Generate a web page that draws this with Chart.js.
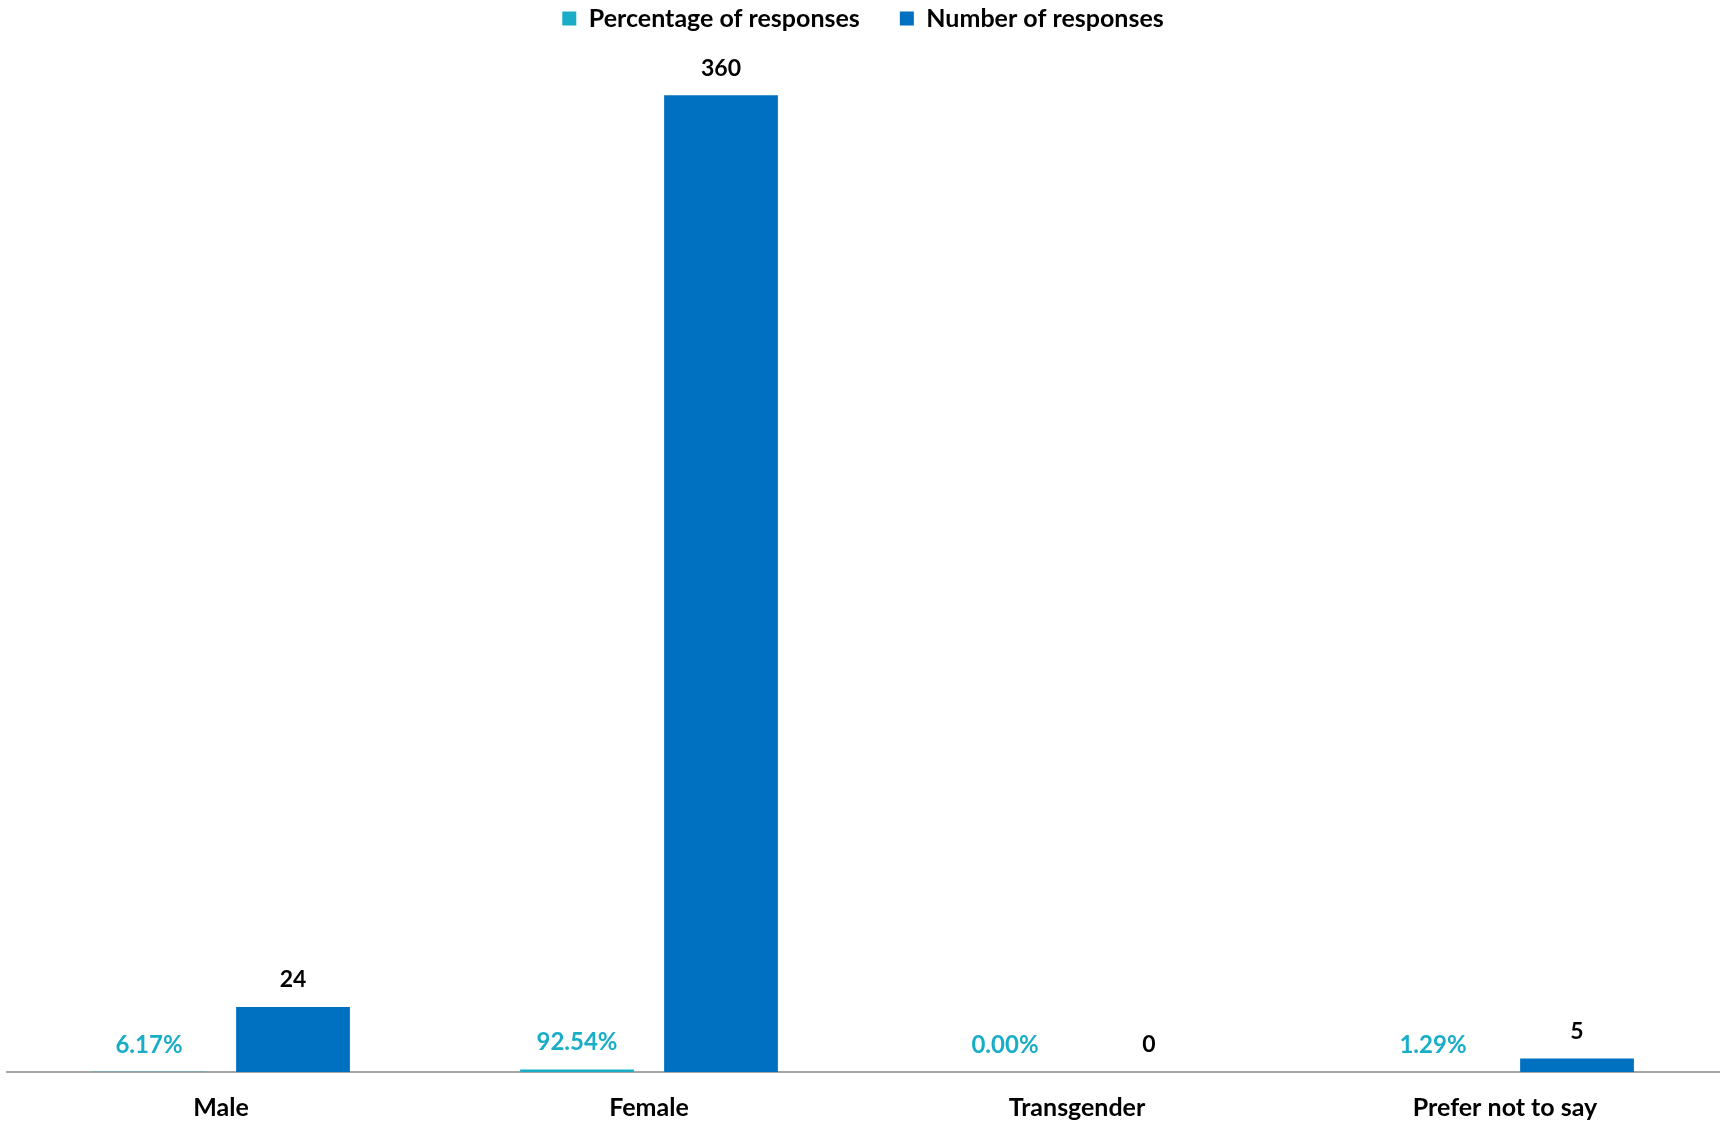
<!DOCTYPE html>
<html>
<head>
<meta charset="utf-8">
<script src="https://cdn.jsdelivr.net/npm/chart.js@4.4.1/dist/chart.umd.min.js"></script>
<style>
  html, body { margin: 0; padding: 0; background: #fff; }
  #wrap { width: 1725px; height: 1122px; }
</style>
</head>
<body>
<div id="wrap"><canvas id="genderchart" width="1725" height="1122"></canvas></div>
<script>
const categories = ['Male', 'Female', 'Transgender', 'Prefer not to say'];
const percentValues = [0.0617, 0.9254, 0.0, 0.0129];
const countValues = [24, 360, 0, 5];

const cyan = '#19ADC7';
const blue = '#0070C0';
const fontFamily = 'Lato, "Open Sans", sans-serif';

// draws the value labels above each bar
const barLabels = {
  id: 'barLabels',
  afterDatasetsDraw(chart) {
    const ctx = chart.ctx;
    ctx.save();
    ctx.textAlign = 'center';
    ctx.textBaseline = 'middle';
    chart.data.datasets.forEach((ds, i) => {
      const meta = chart.getDatasetMeta(i);
      meta.data.forEach((bar, j) => {
        const v = ds.data[j];
        let txt;
        if (i == 0) {
          txt = (v * 100).toFixed(2) + '%';
          ctx.fillStyle = cyan;
          ctx.font = 'bold 24px ' + fontFamily;
        } else {
          txt = v.toString();
          ctx.fillStyle = '#000';
          ctx.font = 'bold 23px ' + fontFamily;
        }
        ctx.fillText(txt, bar.x, bar.y - 27);
      });
    });
    ctx.restore();
  }
};

const data = {
  labels: categories,
  datasets: [
    {
      label: 'Percentage of responses',
      data: percentValues,
      backgroundColor: cyan,
      categoryPercentage: 0.673,
      barPercentage: 0.79
    },
    {
      label: 'Number of responses',
      data: countValues,
      backgroundColor: blue,
      categoryPercentage: 0.673,
      barPercentage: 0.79
    }
  ]
};

const config = {
  type: 'bar',
  data: data,
  options: {
    responsive: false,
    animation: false,
    layout: {
      padding: { left: 7, right: 6, top: -34, bottom: -22 }
    },
    plugins: {
      legend: {
        position: 'top',
        labels: {
          boxWidth: 14,
          boxHeight: 14,
          color: '#000',
          padding: 40,
          font: { family: fontFamily, size: 25, weight: 'bold' }
        }
      },
      tooltip: { enabled: false }
    },
    scales: {
      x: {
        grid: { display: false, drawTicks: false },
        border: { display: true, color: '#A6A6A6', width: 2 },
        ticks: {
          color: '#000',
          padding: 21,
          font: { family: fontFamily, size: 25, weight: 'bold' }
        }
      },
      y: {
        display: false,
        min: 0,
        max: 380
      }
    }
  },
  plugins: [barLabels]
};

const ctx = document.getElementById('genderchart').getContext('2d');
const chart = new Chart(ctx, config);
</script>
</body>
</html>
